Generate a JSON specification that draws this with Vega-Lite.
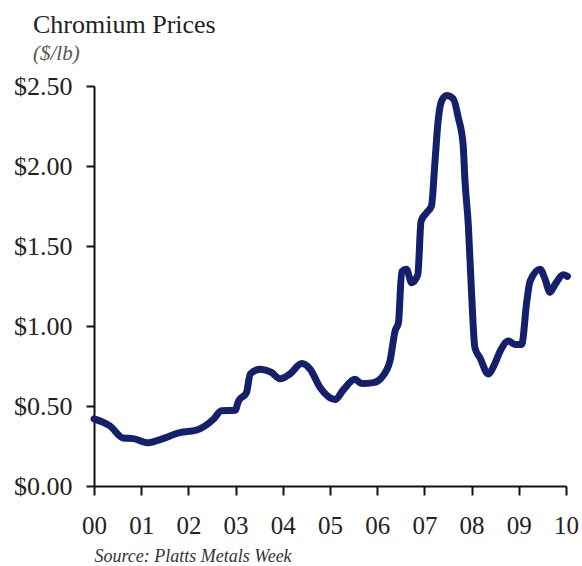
{
  "$schema": "https://vega.github.io/schema/vega-lite/v6.json",
  "autosize": {"type": "none"},
  "width": 472,
  "height": 400,
  "padding": {"left": 94, "top": 86, "right": 16, "bottom": 80},
  "background": "white",
  "title": {
    "text": "Chromium Prices",
    "subtitle": "($/lb)",
    "anchor": "start",
    "frame": "group",
    "dx": -61,
    "offset": 9,
    "font": "Liberation Serif",
    "fontSize": 26,
    "fontWeight": "normal",
    "color": "#222222",
    "subtitleFont": "Liberation Serif",
    "subtitleFontSize": 21,
    "subtitleFontStyle": "italic",
    "subtitleColor": "#555555",
    "subtitlePadding": 5
  },
  "data": {
    "values": [
      {"t": 0.00, "p": 0.42},
      {"t": 0.34, "p": 0.375},
      {"t": 0.62, "p": 0.30},
      {"t": 0.83, "p": 0.296},
      {"t": 1.15, "p": 0.27},
      {"t": 1.40, "p": 0.29},
      {"t": 1.82, "p": 0.333},
      {"t": 2.18, "p": 0.35},
      {"t": 2.53, "p": 0.417},
      {"t": 2.70, "p": 0.47},
      {"t": 2.99, "p": 0.473},
      {"t": 3.06, "p": 0.53},
      {"t": 3.23, "p": 0.583},
      {"t": 3.31, "p": 0.70},
      {"t": 3.52, "p": 0.73},
      {"t": 3.76, "p": 0.71},
      {"t": 3.94, "p": 0.67},
      {"t": 4.15, "p": 0.70},
      {"t": 4.40, "p": 0.765},
      {"t": 4.58, "p": 0.73},
      {"t": 4.79, "p": 0.615},
      {"t": 5.11, "p": 0.54},
      {"t": 5.28, "p": 0.60},
      {"t": 5.53, "p": 0.667},
      {"t": 5.67, "p": 0.64},
      {"t": 5.92, "p": 0.646},
      {"t": 6.09, "p": 0.677},
      {"t": 6.27, "p": 0.78},
      {"t": 6.38, "p": 0.97},
      {"t": 6.45, "p": 1.02},
      {"t": 6.52, "p": 1.34},
      {"t": 6.62, "p": 1.355},
      {"t": 6.73, "p": 1.27},
      {"t": 6.86, "p": 1.32},
      {"t": 6.93, "p": 1.656},
      {"t": 7.05, "p": 1.71},
      {"t": 7.15, "p": 1.75},
      {"t": 7.22, "p": 2.01},
      {"t": 7.29, "p": 2.28},
      {"t": 7.37, "p": 2.41},
      {"t": 7.47, "p": 2.44},
      {"t": 7.61, "p": 2.42},
      {"t": 7.72, "p": 2.30},
      {"t": 7.82, "p": 2.135},
      {"t": 7.86, "p": 1.906},
      {"t": 7.93, "p": 1.635},
      {"t": 8.00, "p": 1.20},
      {"t": 8.07, "p": 0.864},
      {"t": 8.18, "p": 0.80},
      {"t": 8.35, "p": 0.70},
      {"t": 8.50, "p": 0.77},
      {"t": 8.60, "p": 0.84},
      {"t": 8.78, "p": 0.906},
      {"t": 8.92, "p": 0.885},
      {"t": 9.06, "p": 0.885},
      {"t": 9.17, "p": 1.156},
      {"t": 9.24, "p": 1.28},
      {"t": 9.45, "p": 1.355},
      {"t": 9.56, "p": 1.29},
      {"t": 9.66, "p": 1.21},
      {"t": 9.77, "p": 1.26},
      {"t": 9.94, "p": 1.32},
      {"t": 10.03, "p": 1.31}
    ]
  },
  "mark": {
    "type": "line",
    "color": "#15206c",
    "strokeWidth": 7,
    "strokeJoin": "round",
    "strokeCap": "round",
    "interpolate": "monotone",
    "clip": false
  },
  "encoding": {
    "x": {
      "field": "t",
      "type": "quantitative",
      "scale": {"domain": [0, 10], "nice": false, "zero": false},
      "axis": {
        "values": [0, 1, 2, 3, 4, 5, 6, 7, 8, 9, 10],
        "format": "02d",
        "grid": false,
        "domainColor": "#111111",
        "domainWidth": 2,
        "tickColor": "#111111",
        "tickWidth": 2,
        "tickSize": 9,
        "labelFont": "Liberation Serif",
        "labelFontSize": 25,
        "labelColor": "#222222",
        "labelPadding": 18,
        "labelFlush": false,
        "title": "Source: Platts Metals Week",
        "titleFont": "Liberation Serif",
        "titleFontSize": 18,
        "titleFontStyle": "italic",
        "titleFontWeight": "normal",
        "titleColor": "#333333",
        "titleAnchor": "start",
        "titleAlign": "left",
        "titlePadding": 9
      }
    },
    "y": {
      "field": "p",
      "type": "quantitative",
      "scale": {"domain": [0, 2.5], "nice": false},
      "axis": {
        "values": [0, 0.5, 1, 1.5, 2, 2.5],
        "format": "$.2f",
        "grid": false,
        "domainColor": "#111111",
        "domainWidth": 2,
        "tickColor": "#111111",
        "tickWidth": 2,
        "tickSize": 8,
        "labelFont": "Liberation Serif",
        "labelFontSize": 26,
        "labelColor": "#222222",
        "labelPadding": 14,
        "labelFlush": false,
        "title": null
      }
    }
  },
  "config": {"view": {"stroke": null}}
}
